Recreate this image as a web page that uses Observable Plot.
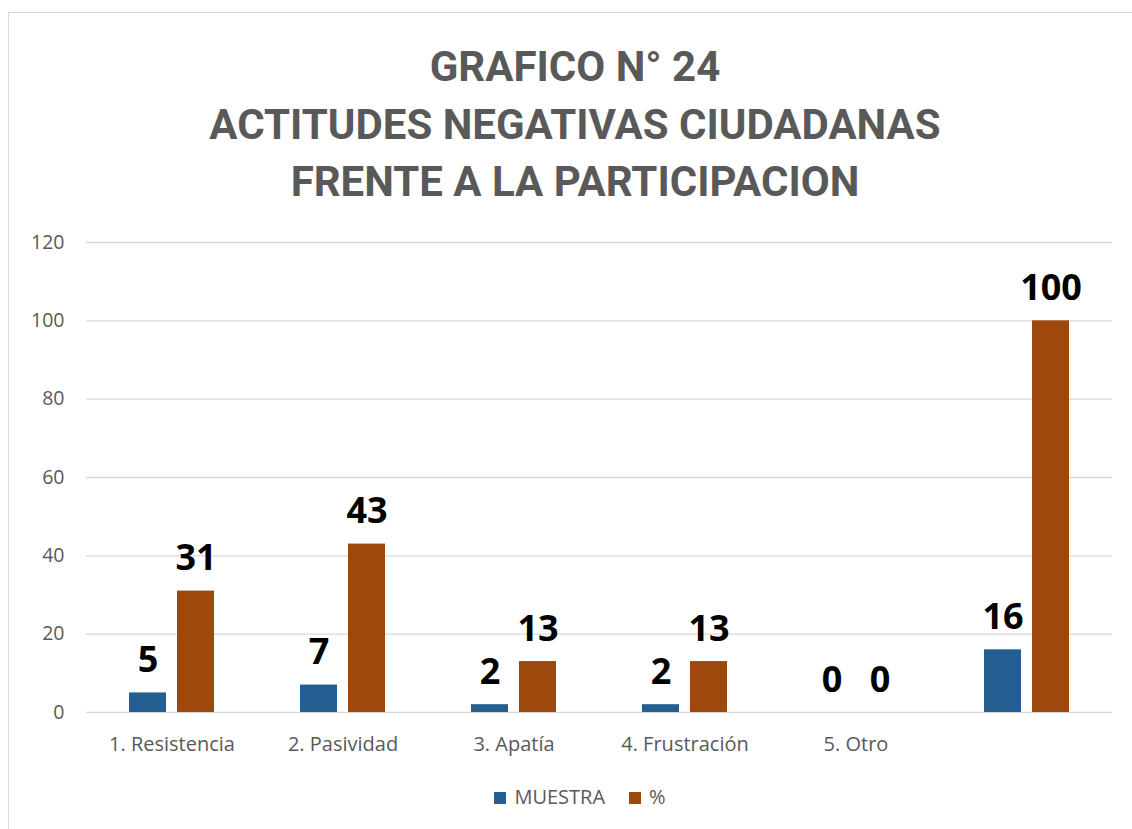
<!DOCTYPE html>
<html>
<head>
<meta charset="utf-8">
<script src="https://cdn.jsdelivr.net/npm/d3@7"></script>
<script src="https://cdn.jsdelivr.net/npm/@observablehq/plot@0.6"></script>
<style>
  body { margin: 0; background: #fff; width: 1132px; height: 829px; overflow: hidden; position: relative; font-family: "Open Sans", sans-serif; }
  #frame { position: absolute; left: 8px; top: 12px; width: 1200px; height: 900px; border: 1px solid #d9d9d9; box-sizing: border-box; }
  #title { position: absolute; left: 0; width: 1150px; top: 38px; text-align: center; color: #595959; font-family: Roboto, sans-serif; font-weight: bold; font-size: 42px; line-height: 57.5px; }
  #chart { position: absolute; left: 0; top: 215px; }
  #legend { position: absolute; left: 0; width: 1160px; top: 783px; text-align: center; color: #595959; font-size: 20px; line-height: 28px; }
  #legend span.sw { display: inline-block; width: 12px; height: 12px; margin-right: 8px; vertical-align: 0px; }
  #legend span.item { margin: 0 12px; }
</style>
</head>
<body>
<div id="frame"></div>
<div id="title">GRAFICO N° 24<br>ACTITUDES NEGATIVAS CIUDADANAS<br>FRENTE A LA PARTICIPACION</div>
<div id="chart"></div>
<div id="legend"></div>
<script>
const categories = ["1. Resistencia", "2. Pasividad", "3. Apatía", "4. Frustración", "5. Otro", ""];
const series = ["MUESTRA", "%"];
const muestra = [5, 7, 2, 2, 0, 16];
const porcentaje = [31, 43, 13, 13, 0, 100];
const yTicks = [0, 20, 40, 60, 80, 100, 120];
const colors = ["#255E91", "#9E480E"];

const data = categories.flatMap((c, i) => [
  {cat: c, serie: series[0], value: muestra[i]},
  {cat: c, serie: series[1], value: porcentaje[i]}
]);

const chart = Plot.plot({
  width: 1132,
  height: 547,
  marginLeft: 84,
  marginRight: 19,
  marginTop: 27,
  marginBottom: 50,
  style: {fontFamily: "'Open Sans', sans-serif", color: "#595959", background: "transparent"},
  fx: {domain: categories, padding: 0, label: null, axis: null},
  x: {domain: series, paddingInner: 0.2245, paddingOuter: 0.862, axis: null},
  y: {domain: [0, 120], label: null},
  color: {domain: series, range: colors},
  marks: [
    Plot.gridY(yTicks, {stroke: "#d9d9d9", strokeOpacity: 1, strokeWidth: 1.3}),
    Plot.axisY(yTicks, {tickSize: 0, tickPadding: 22, fontSize: 19.5, fill: "#595959", label: null}),
    Plot.axisFx({anchor: "bottom", tickSize: 0, tickPadding: 24, fontSize: 20, fill: "#595959", label: null}),
    Plot.barY(data, {fx: "cat", x: "serie", y: "value", fill: "serie"}),
    Plot.text(data, {fx: "cat", x: "serie", y: "value", text: "value", lineAnchor: "bottom", dy: -21, fontSize: 36, fontWeight: "bold", fill: "#000"})
  ]
});
document.getElementById("chart").appendChild(chart);

const legend = document.getElementById("legend");
series.forEach((s, i) => {
  const item = document.createElement("span");
  item.className = "item";
  const sw = document.createElement("span");
  sw.className = "sw";
  sw.style.background = colors[i];
  item.appendChild(sw);
  item.appendChild(document.createTextNode(s));
  legend.appendChild(item);
});
</script>
</body>
</html>
